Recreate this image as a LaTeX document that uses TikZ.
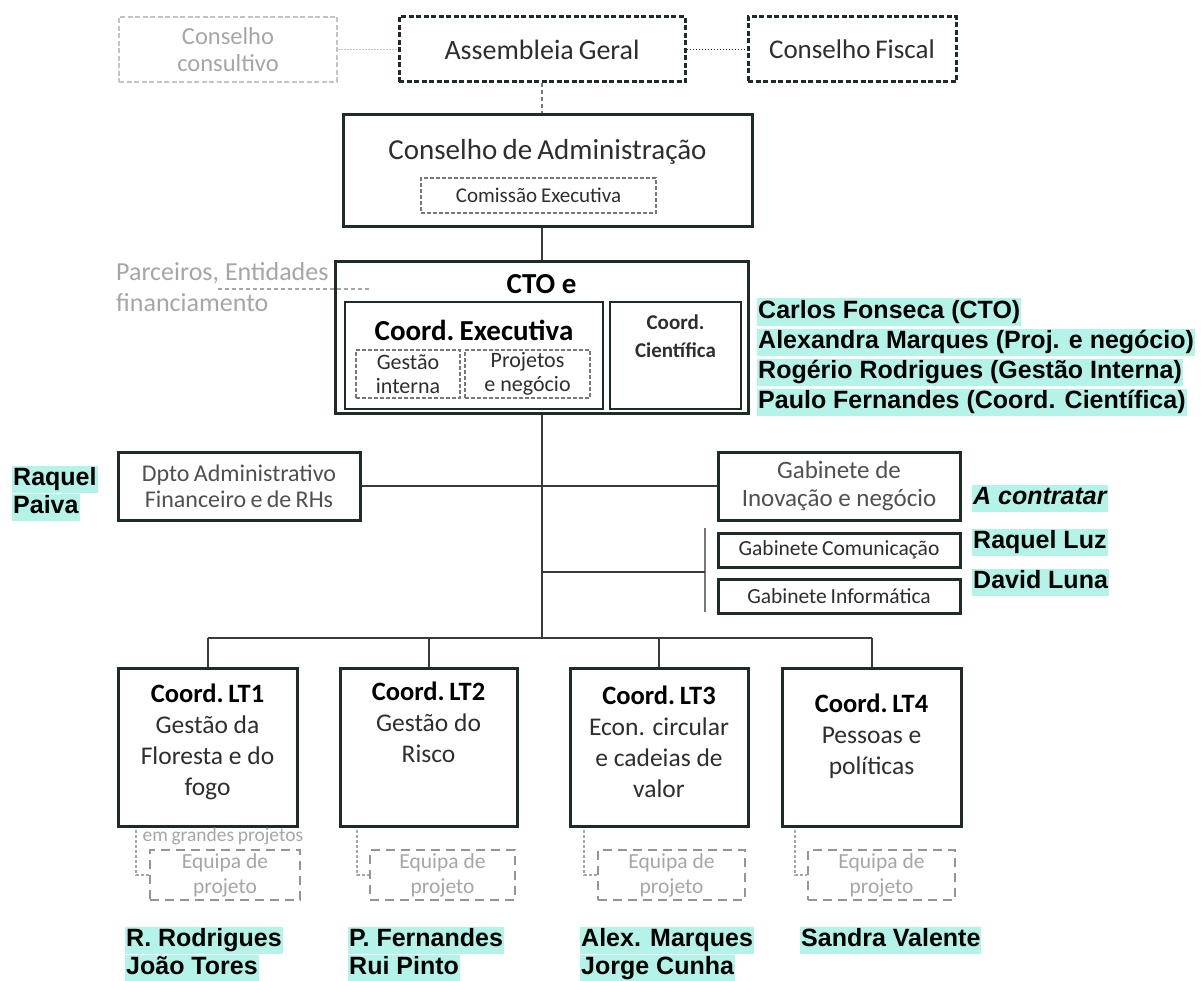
\documentclass[tikz,border=0pt]{standalone}
\usepackage{fontspec}
\setmainfont{Carlito}
\newfontfamily\namefont{Liberation Sans}
\usetikzlibrary{calc}
\definecolor{boxc}{HTML}{1E2D24}
\definecolor{txt}{HTML}{2E2E2E}
\definecolor{mtxt}{HTML}{505050}
\definecolor{ltxt}{HTML}{A6A6A6}
\definecolor{lgray}{HTML}{C4C4C4}
\definecolor{mgray}{HTML}{777777}
\definecolor{egray}{HTML}{959595}
\definecolor{linec}{HTML}{3A3A3A}
\definecolor{hlc}{HTML}{B4F3E7}
\newcommand\fsz[2]{\fontsize{#1}{#2}\selectfont}
\newcommand\tsp{\hspace{0.18em}}
\tikzset{
  box/.style={draw=boxc, line width=3pt, fill=white, inner sep=0pt, text=txt, align=center},
  dbox/.style={draw=boxc, line width=3pt, dash pattern=on 5pt off 2.5pt, inner sep=0pt, text=txt, align=center},
  lbox/.style={draw=lgray, line width=2pt, dash pattern=on 5pt off 2.5pt, inner sep=0pt, text=ltxt, align=center},
  gbox/.style={draw=mgray, line width=1.8pt, dash pattern=on 4pt off 2pt, inner sep=0pt, text=txt, align=center},
  ebox/.style={draw=egray, line width=2.5pt, dash pattern=on 9pt off 6pt, inner sep=0pt, text=ltxt, align=center},
  conn/.style={draw=linec, line width=2pt},
  edash/.style={draw=ltxt, line width=1.3pt, dash pattern=on 3pt off 2pt},
  hl/.style={fill=hlc, text=black, font=\namefont\bfseries\fsz{25}{28}, inner xsep=1pt, inner ysep=2pt, text height=18pt, text depth=5pt, anchor=west},
  plain/.style={inner sep=0pt, text=txt, align=center}
}
\begin{document}
\begin{tikzpicture}[x=1pt,y=-1pt]
\useasboundingbox[fill=white] (0,0) rectangle (1201,981);

% top row
\node[lbox, minimum width=218, minimum height=65, font=\fsz{24.5}{27}] (cc) at (228,49.5) {Conselho\\consultivo};
\node[dbox, minimum width=286, minimum height=65, font=\fsz{28}{30}] (ag) at (542,49.5) {Assembleia\tsp Geral};
\node[dbox, minimum width=208, minimum height=65, font=\fsz{27}{30}] (cf) at (852,49.5) {Conselho\tsp Fiscal};
\draw[draw=lgray, line width=1.8pt, dash pattern=on 1.5pt off 1.5pt] (cc.east) -- (ag.west);
\draw[draw=boxc, line width=1.8pt, dash pattern=on 1.5pt off 1.5pt] (ag.east) -- (cf.west);

% conselho de administracao
\node[box, minimum width=409, minimum height=112] (ca) at (547.5,171) {};
\node[plain, font=\fsz{29}{30}] (cat) at (547.5,152) {Conselho\tsp de\tsp Administração};
\node[gbox, minimum width=235, minimum height=35, font=\fsz{21}{24}] (ce) at (538.5,195.5) {Comissão\tsp Executiva};

% CTO
\node[box, minimum width=413, minimum height=151] (cto) at (541.5,337.5) {};
\node[plain, font=\bfseries\fsz{29}{30}, text=black] (ctot) at (541.5,284) {CTO e};
\node[box, line width=2.6pt, minimum width=258, minimum height=107] (cex) at (474,355.5) {};
\node[plain, font=\bfseries\fsz{29}{30}, text=black] (cext) at (474,330) {Coord.\tsp Executiva};
\node[gbox, minimum width=104, minimum height=48, font=\fsz{22}{24}] (gi) at (408,374) {Gestão\\interna};
\node[gbox, minimum width=125, minimum height=48, font=\fsz{22}{24}] (pn) at (527.5,374) {Projetos\\e negócio};
\node[box, line width=2.6pt, minimum width=131, minimum height=107] (ccs) at (675.5,355.5) {};
\node[plain, font=\bfseries\fsz{21}{28}] (ccst) at (675.5,336) {Coord.\\Científica};

\draw[draw=mgray, line width=1.5pt, dash pattern=on 4pt off 3pt] (ag.south) -- (ag.south |- ca.north);
\draw[conn] (cto.north |- ca.south) -- (cto.north);

% parceiros
\node[plain, anchor=west, align=left, text=ltxt, font=\fsz{26}{31}] (parc) at (116,287.5) {Parceiros, Entidades\\financiamento};
\coordinate (pe1) at (218,289);
\coordinate (pe2) at (372,289);
\draw[draw=ltxt, line width=1.6pt, dash pattern=on 4pt off 3pt] (pe1) -- (pe2);

% names right of CTO
\node[hl] (n1) at (757,312) {Carlos Fonseca (CTO)};
\node[hl] (n2) at (757,342) {Alexandra Marques (Proj. e negócio)};
\node[hl] (n3) at (757,372) {Rogério Rodrigues (Gestão Interna)};
\node[hl] (n4) at (757,402) {Paulo Fernandes (Coord. Científica)};

% trunk and side units
\coordinate (bus) at (541.5,638);
\draw[conn] (cto.south) -- (bus);
\node[box, minimum width=242, minimum height=68, font=\fsz{24}{26}, text=mtxt] (dp) at (239,486) {Dpto\tsp Administrativo\\Financeiro\tsp e\tsp de\tsp RHs};
\node[box, minimum width=242, minimum height=68, font=\fsz{25}{28}, text=mtxt] (gin) at (839,486) {Gabinete de\\Inovação e negócio};
\draw[conn] (dp.east) -- (dp.east -| cto.south);
\draw[conn] (gin.west) -- (gin.west -| cto.south);
\node[box, minimum width=242, minimum height=34, font=\fsz{21.5}{24}] (gco) at (839,550) {Gabinete\tsp Comunicação};
\node[box, minimum width=242, minimum height=34, font=\fsz{21.5}{24}] (ginf) at (839,596) {Gabinete\tsp Informática};
\coordinate (gt) at (705,528);
\coordinate (gb) at (705,612);
\coordinate (gm) at (705,572);
\draw[draw=mgray, line width=2pt] (gt) -- (gb);
\draw[conn] (gm -| cto.south) -- (gm);

\node[hl] (rp1) at (12,479) {Raquel};
\node[hl] (rp2) at (12,507) {Paiva};
\node[hl, font=\namefont\bfseries\itshape\fsz{25}{28}] (ac) at (972,498) {A contratar};
\node[hl] (rl) at (972,542) {Raquel Luz};
\node[hl] (dl) at (972,582) {David Luna};

% LT boxes
\node[box, minimum width=179, minimum height=158] (lt1) at (207.5,747) {};
\node[box, minimum width=177, minimum height=158] (lt2) at (428.5,747) {};
\node[box, minimum width=178, minimum height=158] (lt3) at (659,747) {};
\node[box, minimum width=179, minimum height=158] (lt4) at (871.5,747) {};
\node[plain, font=\fsz{25.5}{31}] (lt1t) at (207.5,742) {{\bfseries\color{black}\fsz{26.5}{31}Coord.\tsp LT1}\\Gestão da\\Floresta e do\\fogo};
\node[plain, font=\fsz{25.5}{31}] (lt2t) at (428.5,722) {{\bfseries\color{black}\fsz{26.5}{31}Coord.\tsp LT2}\\Gestão do\\Risco};
\node[plain, font=\fsz{25.5}{31}] (lt3t) at (659,742) {{\bfseries\color{black}\fsz{26.5}{31}Coord.\tsp LT3}\\Econ. circular\\e cadeias de\\valor};
\node[plain, font=\fsz{25.5}{31}] (lt4t) at (871.5,736) {{\bfseries\color{black}\fsz{26.5}{31}Coord.\tsp LT4}\\Pessoas e\\políticas};

\draw[conn] (lt1.north |- bus) -- (lt4.north |- bus);
\foreach \b in {lt1,lt2,lt3,lt4} { \draw[conn] (\b.north |- bus) -- (\b.north); }

% equipas
\node[ebox, minimum width=150, minimum height=50, font=\fsz{21.5}{25}] (eq1) at (225,875) {Equipa de\\projeto};
\node[ebox, minimum width=145, minimum height=50, font=\fsz{21.5}{25}] (eq2) at (442.5,875) {Equipa de\\projeto};
\node[ebox, minimum width=147, minimum height=50, font=\fsz{21.5}{25}] (eq3) at (671.5,875) {Equipa de\\projeto};
\node[ebox, minimum width=147, minimum height=50, font=\fsz{21.5}{25}] (eq4) at (881.5,875) {Equipa de\\projeto};
\coordinate (k1) at (136,830);
\coordinate (k2) at (357,830);
\coordinate (k3) at (584,830);
\coordinate (k4) at (795,830);
\draw[edash] (k1) |- (eq1.west);
\draw[edash] (k2) |- (eq2.west);
\draw[edash] (k3) |- (eq3.west);
\draw[edash] (k4) |- (eq4.west);
\node[plain, text=ltxt, font=\fsz{19.5}{20}] (egp) at (223,836) {em\tsp grandes\tsp projetos};

% names bottom
\node[hl] (b1a) at (125,940) {R. Rodrigues};
\node[hl] (b1b) at (125,968) {João Tores};
\node[hl] (b2a) at (348,940) {P. Fernandes};
\node[hl] (b2b) at (348,968) {Rui Pinto};
\node[hl] (b3a) at (580,940) {Alex. Marques};
\node[hl] (b3b) at (580,968) {Jorge Cunha};
\node[hl] (b4a) at (800,940) {Sandra Valente};
\end{tikzpicture}
\end{document}
